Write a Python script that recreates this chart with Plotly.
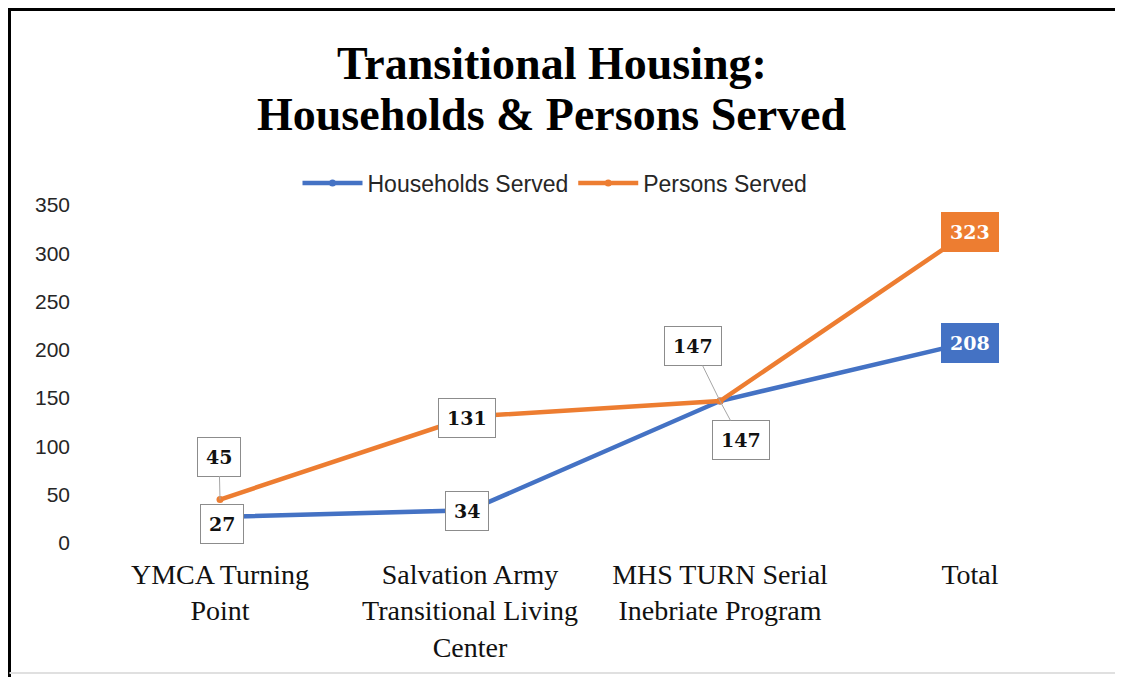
import plotly.graph_objects as go

# ---- data ----
categories = [
    "YMCA Turning<br>Point",
    "Salvation Army<br>Transitional Living<br>Center",
    "MHS TURN Serial<br>Inebriate Program",
    "Total",
]
households = [27, 34, 147, 208]
persons = [45, 131, 147, 323]
y_ticks = [0, 50, 100, 150, 200, 250, 300, 350]

title_lines = ["Transitional Housing:", "Households & Persons Served"]

# ---- style ----
BLUE = "#4472C4"
ORANGE = "#ED7D31"
PAGE_OFF = 8                      # default body margin of the html page
W, H = 1123 - PAGE_OFF, 677 - PAGE_OFF
ML, MT = 95 - PAGE_OFF, 205 - PAGE_OFF
plot_w, plot_h = 1000, 338
MR = W - ML - plot_w
MB = H - MT - plot_h

# label offsets (pixels) and whether a leader line is drawn
hh_off = [(2, 7, False), (-3, 1, False), (21, 39, True), (0, 1, False)]
ps_off = [(-1, -43, True), (-3, 2, False), (-27, -55, True), (0, 1, False)]
hh_filled = [False, False, False, True]
ps_filled = [False, False, False, True]


def py(p):  # page pixel -> paper y
    return (543 - p) / plot_h


def px(p):  # page pixel -> paper x
    return (p - 95) / plot_w


fig = go.Figure()
fig.add_trace(go.Scatter(
    x=categories, y=households, mode="lines+markers", name="Households Served",
    line=dict(color=BLUE, width=4.5), marker=dict(size=7, color=BLUE),
))
fig.add_trace(go.Scatter(
    x=categories, y=persons, mode="lines+markers", name="Persons Served",
    line=dict(color=ORANGE, width=4.5), marker=dict(size=7, color=ORANGE),
))

annotations = []


def add_labels(values, offsets, filled, color):
    for cat, v, (dx, dy, arrow), f in zip(categories, values, offsets, filled):
        common = dict(
            x=cat, y=v, xref="x", yref="y", text=str(v),
            font=dict(family="DejaVu Serif", size=19,
                      color="white" if f else "#111111", weight="bold"),
            bgcolor=color if f else "white",
            bordercolor=color if f else "#8c8c8c",
            borderwidth=1, borderpad=8,
            xanchor="center", yanchor="middle",
        )
        if arrow:
            annotations.append(dict(
                **common, showarrow=True, ax=dx, ay=dy, arrowhead=0,
                arrowwidth=1, arrowcolor="#a6a6a6", standoff=0,
            ))
        else:
            annotations.append(dict(**common, showarrow=False,
                                    xshift=dx, yshift=-dy))


add_labels(households, hh_off, hh_filled, BLUE)
add_labels(persons, ps_off, ps_filled, ORANGE)

for text, cy in zip(title_lines, [63, 115]):
    annotations.append(dict(
        x=px(552), y=py(cy), xref="paper", yref="paper", text=text,
        showarrow=False, xanchor="center", yanchor="middle",
        font=dict(family="Liberation Serif", size=46, color="black",
                  weight="bold"),
    ))

shapes = [
    # outer frame: top and left heavy, right/bottom light
    dict(type="line", xref="paper", yref="paper", x0=px(5), x1=px(1123),
         y0=py(9.5), y1=py(9.5), line=dict(color="black", width=3)),
    dict(type="line", xref="paper", yref="paper", x0=px(9.5), x1=px(9.5),
         y0=py(9.5), y1=py(677), line=dict(color="black", width=3)),
    dict(type="line", xref="paper", yref="paper", x0=px(1121), x1=px(1121),
         y0=py(9.5), y1=py(673), line=dict(color="#d0d0d0", width=2)),
    dict(type="line", xref="paper", yref="paper", x0=px(9.5), x1=px(1123),
         y0=py(673), y1=py(673), line=dict(color="#e0e0e0", width=2)),
]

fig.update_layout(
    width=W, height=H, autosize=False,
    margin=dict(l=ML, r=MR, t=MT, b=MB),
    paper_bgcolor="white", plot_bgcolor="white",
    showlegend=True,
    legend=dict(orientation="h", x=px(555), y=py(183), xanchor="center",
                yanchor="middle", font=dict(family="Liberation Sans", size=23,
                                            color="#262626"),
                itemwidth=60, bgcolor="rgba(0,0,0,0)"),
    annotations=annotations,
    shapes=shapes,
    xaxis=dict(
        type="category", range=[-0.5, 3.5], showgrid=False, showline=False,
        zeroline=False, ticks="", ticklabelstandoff=12,
        tickfont=dict(family="Liberation Serif", size=28, color="#111111"),
    ),
    yaxis=dict(
        range=[0, 350], tickvals=y_ticks, showgrid=False, showline=False,
        zeroline=False, ticks="", ticklabelstandoff=24,
        tickfont=dict(family="Liberation Sans", size=21, color="#262626"),
    ),
)

fig.write_html("out.html")
